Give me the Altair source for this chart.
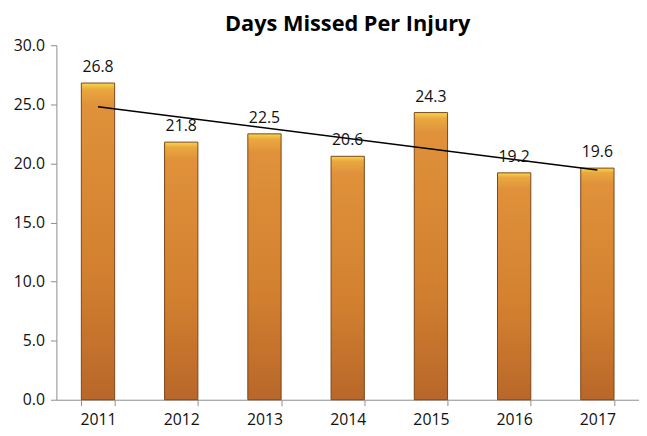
import altair as alt
import pandas as pd

years = [2011, 2012, 2013, 2014, 2015, 2016, 2017]
days = [26.8, 21.8, 22.5, 20.6, 24.3, 19.2, 19.6]

df = pd.DataFrame({"year": years, "days": days})
df["label"] = df["year"].astype(str)

font = "Open Sans"

x = alt.X("label:N", title=None, sort=None,
          scale=alt.Scale(paddingInner=0.6, paddingOuter=0.3),
          axis=alt.Axis(labelAngle=0, labelFontSize=16, labelColor="#111", labelFont=font,
                        domainColor="#8c8c8c", tickColor="#8c8c8c", tickBand="extent",
                        tickSize=6, labelPadding=6))
y = alt.Y("days:Q", title=None,
          scale=alt.Scale(domain=[0, 30], nice=False),
          axis=alt.Axis(values=[0, 5, 10, 15, 20, 25, 30], format=".1f", grid=False,
                        labelFontSize=16, labelColor="#111", labelFont=font,
                        domainColor="#8c8c8c", tickColor="#8c8c8c", tickSize=6, labelPadding=6))

grad = alt.Gradient(
    gradient="linear", x1=0, y1=0, x2=0, y2=1,
    stops=[alt.GradientStop(offset=0, color="#f7d84c"),
           alt.GradientStop(offset=0.02, color="#eaa840"),
           alt.GradientStop(offset=0.07, color="#e0913a"),
           alt.GradientStop(offset=0.6, color="#d2802f"),
           alt.GradientStop(offset=1, color="#b9672a")])

base = alt.Chart(df)
bars = base.mark_bar(fill=grad, stroke="#7a4518", strokeWidth=1).encode(x=x, y=y)
text = base.mark_text(dy=-16, fontSize=16, font=font, color="#111").encode(
    x=x, y=y, text=alt.Text("days:Q", format=".1f"))
trend = base.transform_regression("year", "days", extent=[2011, 2017]).transform_calculate(
    label="toString(datum.year)").mark_line(color="#000", strokeWidth=1.6).encode(
    x=alt.X("label:N", sort=None), y="days:Q")

chart = alt.layer(bars, trend, text).properties(
    width=590, height=359,
    padding={"left": 5, "top": 3, "right": 0, "bottom": 4},
    title=alt.TitleParams("Days Missed Per Injury", fontSize=22, font=font, fontWeight="bold",
                          color="#000", anchor="middle", offset=1),
).configure_view(stroke=None)

chart.save("out.html", embed_options={"renderer": "svg", "actions": False})
